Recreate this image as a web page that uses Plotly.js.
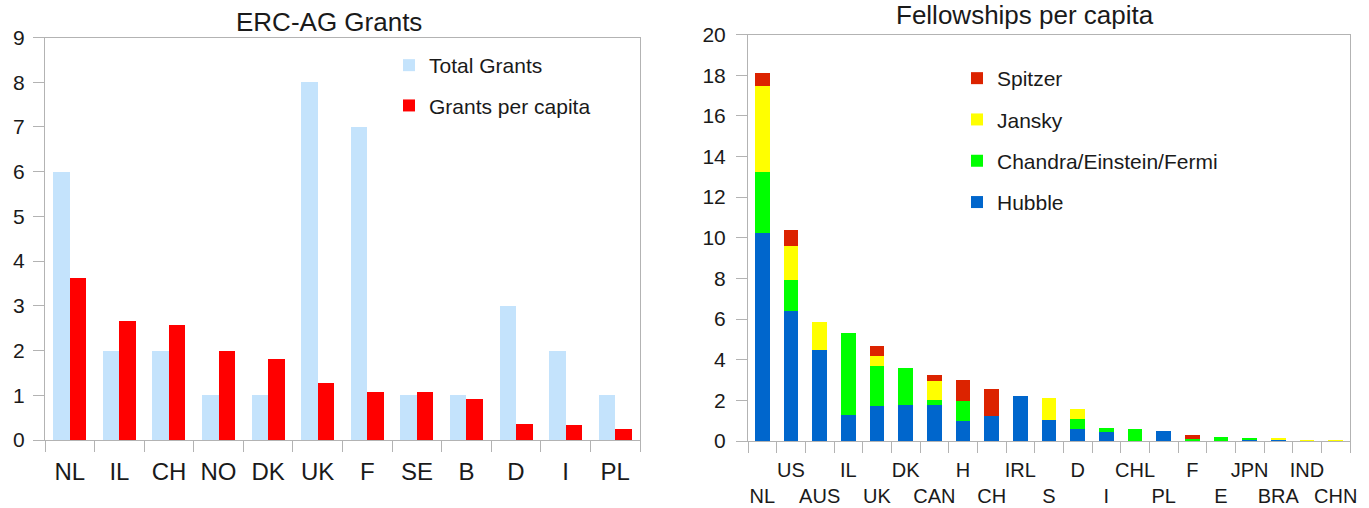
<!DOCTYPE html>
<html>
<head>
<meta charset="utf-8">
<script src="https://cdn.plot.ly/plotly-3.0.1.min.js"></script>
<style>
html,body{margin:0;padding:0;background:#fff;}
#chart{width:1369px;height:508px;}
</style>
</head>
<body>
<div id="chart"></div>
<script>
// ---- Left chart: ERC-AG Grants ----
const ercCountries = ['NL','IL','CH','NO','DK','UK','F','SE','B','D','I','PL'];
const totalGrants = [6, 2, 2, 1, 1, 8, 7, 1, 1, 3, 2, 1];
const grantsPerCapita = [3.62, 2.66, 2.57, 2.0, 1.81, 1.28, 1.07, 1.07, 0.92, 0.36, 0.34, 0.25];

// ---- Right chart: Fellowships per capita ----
const fellowCountries = ['NL','US','AUS','IL','UK','DK','CAN','H','CH','IRL','S','D','I','CHL','PL','F','E','JPN','BRA','IND','CHN'];
const fellowTickLabels = ['<br>NL','US','<br>AUS','IL','<br>UK','DK','<br>CAN','H','<br>CH','IRL','<br>S','D','<br>I','CHL','<br>PL','F','<br>E','JPN','<br>BRA','IND','<br>CHN'];
const hubble  = [10.23, 6.39, 4.48, 1.28, 1.72, 1.77, 1.77, 0.98, 1.23, 2.22, 1.04, 0.60, 0.46, 0,    0.51, 0,    0,    0.07, 0.03, 0,    0];
const chandra = [3.00,  1.53, 0,    4.03, 1.97, 1.82, 0.25, 0.99, 0,    0,    0,    0.50, 0.20, 0.61, 0,    0.12, 0.22, 0.10, 0,    0,    0];
const jansky  = [4.25,  1.67, 1.37, 0,    0.49, 0,    0.93, 0,    0,    0,    1.09, 0.49, 0,    0,    0,    0,    0,    0,    0.10, 0.04, 0.04];
const spitzer = [0.62,  0.79, 0,    0,    0.49, 0,    0.30, 1.03, 1.33, 0,    0,    0,    0,    0,    0,    0.20, 0,    0,    0,    0,    0];

const FONT = 'Liberation Sans, Arial, sans-serif';
const TXT = '#1a1a1a';
const AX = '#b3b3b3';

const traces = [
  {type:'bar', name:'Total Grants', x:ercCountries, y:totalGrants, xaxis:'x', yaxis:'y',
   marker:{color:'#c4e3fc', line:{width:0}}, width:0.333, offset:-0.333,
   legend:'legend', legendgroup:'g1', legendrank:1},
  {type:'bar', name:'Grants per capita', x:ercCountries, y:grantsPerCapita, xaxis:'x', yaxis:'y3',
   marker:{color:'#ff0000', line:{width:0}}, width:0.333, offset:0,
   legend:'legend', legendgroup:'g2', legendrank:2},
  {type:'bar', name:'Hubble', x:fellowCountries, y:hubble, xaxis:'x2', yaxis:'y2',
   marker:{color:'#0066cc', line:{width:0}}, width:0.52, legend:'legend2', legendgroup:'h1', legendrank:4},
  {type:'bar', name:'Chandra/Einstein/Fermi', x:fellowCountries, y:chandra, xaxis:'x2', yaxis:'y2',
   marker:{color:'#00ff00', line:{width:0}}, width:0.52, legend:'legend2', legendgroup:'h2', legendrank:3},
  {type:'bar', name:'Jansky', x:fellowCountries, y:jansky, xaxis:'x2', yaxis:'y2',
   marker:{color:'#ffff00', line:{width:0}}, width:0.52, legend:'legend2', legendgroup:'h3', legendrank:2},
  {type:'bar', name:'Spitzer', x:fellowCountries, y:spitzer, xaxis:'x2', yaxis:'y2',
   marker:{color:'#dc2300', line:{width:0}}, width:0.52, legend:'legend2', legendgroup:'h4', legendrank:1}
];

const W = 1369, H = 508;
const px = v => v / W;
const py = v => (H - v) / H;

function catAxis(extra){
  return Object.assign({
    type:'category', tickson:'boundaries', ticks:'outside', ticklen:11, tickwidth:1,
    tickcolor:AX, showline:true, linecolor:AX, linewidth:1, mirror:true,
    showgrid:false, zeroline:false, fixedrange:true, tickangle:0
  }, extra);
}
function valAxis(extra){
  return Object.assign({
    ticks:'outside', ticklen:11, tickwidth:1, tickcolor:AX, showline:true, linecolor:AX,
    linewidth:1, mirror:true, showgrid:false, zeroline:false, fixedrange:true
  }, extra);
}

const layout = {
  width:W, height:H,
  margin:{l:0, r:0, t:0, b:0},
  paper_bgcolor:'#ffffff', plot_bgcolor:'#ffffff',
  barmode:'stack',
  showlegend:true,
  font:{family:FONT, color:TXT},
  xaxis: catAxis({domain:[px(45), px(640)], anchor:'y', range:[-0.5, 11.5],
                  tickfont:{size:24, family:FONT, color:TXT}, ticklabelstandoff:10}),
  yaxis: valAxis({domain:[py(440), py(37.5)], anchor:'x', range:[0, 9], dtick:1,
                  tickfont:{size:21, family:FONT, color:TXT}, ticklabelstandoff:4}),
  yaxis3: {overlaying:'y', anchor:'x', range:[0, 9], visible:false, fixedrange:true},
  xaxis2: catAxis({domain:[px(748), px(1350)], anchor:'y2', range:[-0.5, 20.5],
                   tickmode:'array', tickvals:fellowCountries, ticktext:fellowTickLabels,
                   tickfont:{size:20, family:FONT, color:TXT}, ticklabelstandoff:11}),
  yaxis2: valAxis({domain:[py(441), py(34.5)], anchor:'x2', range:[0, 20], dtick:2,
                   tickfont:{size:21, family:FONT, color:TXT}, ticklabelstandoff:6}),
  legend: {x:px(389), y:py(45), xanchor:'left', yanchor:'top', bgcolor:'rgba(0,0,0,0)',
           borderwidth:0, font:{size:21, family:FONT, color:TXT}, tracegroupgap:10,
           traceorder:'grouped'},
  legend2: {x:px(957), y:py(58), xanchor:'left', yanchor:'top', bgcolor:'rgba(0,0,0,0)',
            borderwidth:0, font:{size:21, family:FONT, color:TXT}, tracegroupgap:11,
            traceorder:'grouped'},
  annotations: [
    {text:'ERC-AG Grants', xref:'paper', yref:'paper', x:px(329), y:py(22), xanchor:'center',
     yanchor:'middle', showarrow:false, font:{size:26, family:FONT, color:TXT}},
    {text:'Fellowships per capita', xref:'paper', yref:'paper', x:px(1024.5), y:py(15), xanchor:'center',
     yanchor:'middle', showarrow:false, font:{size:26, family:FONT, color:TXT}}
  ]
};

Plotly.newPlot('chart', traces, layout, {displayModeBar:false, staticPlot:true});
</script>
</body>
</html>
